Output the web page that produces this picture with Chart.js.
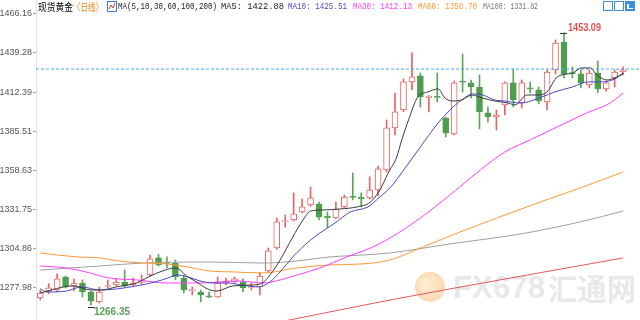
<!DOCTYPE html>
<html>
<head>
<meta charset="utf-8">
<script src="https://cdn.jsdelivr.net/npm/chart.js@4.4.1/dist/chart.umd.min.js"></script>
<style>
html, body { margin: 0; padding: 0; background: #fff; }
#wrap { width: 640px; height: 320px; position: relative; }
</style>
</head>
<body>
<div id="wrap"><canvas id="kline"></canvas></div>
<script>
// daily candles, spot gold
const opens = [1271.1, 1275.9, 1276.6, 1285.5, 1279.4, 1281.4, 1275.2, 1268.4, 1279.0, 1280.0,
  1282.1, 1280.0, 1281.8, 1286.9, 1298.6, 1295.5, 1295.1, 1284.8, 1276.2, 1275.2,
  1272.6, 1271.8, 1281.4, 1282.1, 1282.1, 1278.3, 1278.7, 1289.6, 1305.4, 1323.4,
  1324.6, 1330.1, 1334.9, 1335.6, 1327.3, 1326.0, 1333.6, 1340.9, 1340.4, 1339.8,
  1345.2, 1359.0, 1387.8, 1400.1, 1419.4, 1423.5, 1408.8, 1409.5, 1394.6, 1383.7,
  1420.0, 1418.7, 1415.9, 1398.1, 1395.3, 1403.6, 1418.7, 1404.9, 1415.3, 1413.9,
  1405.6, 1427.6, 1446.8, 1425.8, 1424.9, 1417.3, 1425.5, 1414.6, 1422.1, 1426.2];
const highs = [1276.6, 1281.0, 1287.6, 1286.2, 1284.2, 1283.5, 1275.9, 1278.7, 1283.5, 1284.2,
  1290.3, 1284.8, 1286.9, 1300.6, 1301.0, 1299.3, 1297.2, 1286.9, 1278.7, 1276.6,
  1275.2, 1285.5, 1284.8, 1285.5, 1284.2, 1281.4, 1288.3, 1305.4, 1326.0, 1328.1,
  1343.2, 1339.1, 1347.3, 1337.0, 1330.1, 1337.0, 1341.8, 1356.9, 1343.2, 1354.2,
  1361.7, 1393.3, 1411.8, 1421.4, 1439.3, 1425.5, 1410.0, 1425.5, 1395.3, 1420.0,
  1438.6, 1420.7, 1424.2, 1402.2, 1400.1, 1419.4, 1428.3, 1420.7, 1419.4, 1415.9,
  1427.6, 1448.2, 1453.09, 1429.7, 1427.6, 1427.6, 1433.8, 1420.0, 1427.6, 1429.7];
const lows = [1269.7, 1274.0, 1275.5, 1278.0, 1275.9, 1271.8, 1266.35, 1267.7, 1278.0, 1279.4,
  1278.7, 1279.4, 1280.7, 1286.2, 1293.0, 1291.7, 1283.5, 1274.5, 1273.2, 1268.4,
  1271.3, 1271.5, 1280.0, 1281.5, 1275.2, 1276.6, 1273.2, 1289.0, 1304.5, 1319.8,
  1324.0, 1329.5, 1334.0, 1324.6, 1319.2, 1325.5, 1333.0, 1338.4, 1333.6, 1339.0,
  1341.1, 1357.6, 1383.0, 1399.0, 1413.9, 1402.2, 1398.8, 1405.6, 1381.6, 1383.0,
  1412.5, 1408.4, 1387.1, 1391.9, 1386.4, 1396.7, 1402.2, 1401.5, 1411.8, 1404.3,
  1400.1, 1424.9, 1422.1, 1422.1, 1415.2, 1415.2, 1411.8, 1413.0, 1415.9, 1424.2];
const closes = [1274.5, 1278.0, 1284.2, 1278.7, 1281.4, 1275.2, 1269.1, 1275.2, 1279.6, 1282.1,
  1279.4, 1281.4, 1282.4, 1297.9, 1293.8, 1294.8, 1285.5, 1276.6, 1276.9, 1273.2,
  1271.6, 1281.4, 1282.8, 1284.2, 1278.0, 1279.0, 1286.2, 1303.4, 1323.3, 1324.1,
  1328.8, 1333.6, 1339.8, 1326.7, 1326.3, 1332.2, 1340.4, 1340.1, 1339.1, 1345.2,
  1359.7, 1387.8, 1398.8, 1419.4, 1422.8, 1409.1, 1409.6, 1408.8, 1384.4, 1418.7,
  1419.2, 1415.9, 1398.8, 1395.3, 1396.7, 1418.7, 1407.0, 1418.7, 1414.5, 1406.3,
  1426.2, 1446.1, 1424.9, 1425.1, 1418.7, 1425.5, 1414.6, 1418.7, 1426.2, 1427.6];

// moving averages: candle position -> value
const ma5At = [0, 3.9, 6.0, 7.2, 9.0, 11.4, 12.8, 14.8, 16.0, 17.5, 18.7, 19.8, 20.9, 22.8, 25.1, 26.3,
  27.2, 28.4, 29.9, 31.1, 32.0, 33.5, 35.5, 37.5, 39.1, 40.2, 41.2, 42.2, 42.8, 43.6, 44.7, 45.9,
  47.1, 47.9, 48.8, 49.9, 51.1, 52.3, 53.8, 55.4, 56.2, 57.6, 58.8, 60.0, 61.2, 63.0, 64.1, 65.1,
  65.9, 67.1, 68.0, 69.0];
const ma5 = [1274.6, 1279.4, 1276.6, 1276.6, 1278.7, 1281.4, 1285.5, 1290.3, 1291.7, 1285.5, 1281.4,
  1277.3, 1275.9, 1279.4, 1280.0, 1281.4, 1286.9, 1297.2, 1313.0, 1324.6, 1330.8, 1331.5, 1332.2,
  1333.6, 1337.0, 1345.2, 1356.9, 1367.9, 1379.6, 1393.3, 1409.1, 1412.5, 1414.6, 1408.4, 1406.3,
  1407.0, 1410.4, 1408.4, 1406.3, 1404.9, 1403.6, 1410.4, 1410.4, 1412.5, 1422.8, 1425.5, 1429.0,
  1429.0, 1424.2, 1420.7, 1422.1, 1424.9];
const ma10At = [0, 0.7, 3.1, 4.9, 7.0, 9.0, 11.4, 13.6, 15.1, 16.2, 17.5, 18.9, 20.5, 22.1, 23.9, 25.8,
  26.6, 27.2, 28.4, 29.9, 32.0, 33.1, 34.9, 36.7, 38.8, 40.2, 41.4, 42.6, 45.6, 47.1, 48.5, 49.9,
  51.2, 52.4, 53.8, 55.0, 56.8, 59.4, 60.9, 63.0, 64.9, 66.5, 68.0, 69.0];
const ma10 = [1277.5, 1275.2, 1275.9, 1278.7, 1276.6, 1277.3, 1279.4, 1282.1, 1284.8, 1286.9, 1285.5,
  1282.8, 1281.4, 1281.4, 1280.0, 1278.7, 1280.0, 1282.1, 1289.0, 1299.3, 1310.9, 1315.7, 1322.6,
  1330.1, 1333.6, 1340.4, 1346.6, 1355.5, 1379.6, 1391.2, 1400.1, 1407.0, 1411.1, 1410.4, 1407.0,
  1406.3, 1404.9, 1409.1, 1412.5, 1415.9, 1419.4, 1419.4, 1421.4, 1425.5];
const ma30At = [0, 3.1, 5.4, 8.2, 11.4, 15.0, 18.9, 23.4, 26.4, 28.4, 30.4, 33.1, 36.3, 39.1, 41.4,
  45.0, 48.5, 52.1, 55.0, 58.0, 61.2, 64.7, 67.5, 69.0];
const ma30 = [1293.1, 1291.7, 1289.0, 1284.8, 1283.5, 1281.4, 1281.4, 1282.8, 1281.4, 1283.5, 1286.9,
  1291.7, 1299.3, 1305.4, 1312.3, 1326.0, 1341.8, 1359.0, 1371.3, 1379.6, 1388.5, 1398.1, 1405.0,
  1411.8];
const ma60At = [0, 4.3, 7.1, 9.3, 12.2, 15.0, 17.4, 20.1, 22.8, 26.4, 30.4, 34.3, 38.2, 41.4, 45.0,
  49.7, 54.4, 59.2, 63.9, 69.0];
const ma60 = [1302.0, 1299.3, 1298.6, 1296.5, 1295.1, 1294.5, 1292.4, 1289.6, 1289.0, 1288.3, 1291.7,
  1293.8, 1294.5, 1297.2, 1305.4, 1316.4, 1326.7, 1337.0, 1346.6, 1357.6];
const ma100At = [0, 7.1, 12.2, 20.1, 26.4, 30.4, 34.3, 38.2, 41.4, 48.5, 56.8, 63.9, 69.0];
const ma100 = [1290.3, 1293.1, 1295.1, 1295.8, 1295.1, 1296.5, 1299.3, 1300.6, 1302.0, 1308.2, 1315.0,
  1323.3, 1330.8];
const ma200At = [27.2, 41.4, 54.4, 69.0];
const ma200 = [1253.3, 1269.7, 1283.5, 1298.6];

const yTicks = [1277.98, 1304.86, 1331.75, 1358.63, 1385.51, 1412.39, 1439.28, 1466.16];
const lastPrice = 1428.2;
const maNames = ['MA5', 'MA10', 'MA30', 'MA60', 'MA100'];
const maLast = [1422.88, 1425.51, 1412.13, 1358.70, 1331.82];
const highIdx = 62;
const lowIdx = 6;

const upColor = '#e86464';
const downColor = '#4f9e4f';
const maColors = ['#3a3a3a', '#4848cc', '#ff3cff', '#ff9933', '#a0a0a0', '#e05a5a'];

const isUp = opens.map((o, i) => closes[i] >= o);
const wickData = lows.map((l, i) => ({ x: i, y: [l, highs[i]] }));
const bodyData = opens.map((o, i) => ({ x: i, y: [o, closes[i]] }));
const pts = (at, vals) => at.map((a, i) => ({ x: a, y: vals[i] }));

function maLine(at, vals, color) {
  return {
    type: 'line', data: pts(at, vals), borderColor: color, borderWidth: 1,
    pointRadius: 0, cubicInterpolationMode: 'monotone', order: 0
  };
}

const overlay = {
  id: 'overlay',
  beforeDatasetsDraw(chart) {
    const ctx = chart.ctx;
    ctx.save();
    // watermark
    ctx.globalAlpha = 0.35;
    const g = ctx.createRadialGradient(426, 283, 2, 430, 287, 16);
    g.addColorStop(0, '#ffd27a');
    g.addColorStop(1, '#f08a1e');
    ctx.fillStyle = g;
    ctx.beginPath();
    ctx.arc(430, 287, 15, 0, Math.PI * 2);
    ctx.fill();
    ctx.globalAlpha = 1;
    ctx.fillStyle = '#e8e8e8';
    ctx.textBaseline = 'middle';
    ctx.font = 'bold 32px "Liberation Sans", Arial, sans-serif';
    ctx.fillText('FX678', 453, 289, 92);
    ctx.font = 'bold 30px "Noto Sans CJK SC", sans-serif';
    ctx.fillText('汇通网', 548, 289, 88);
    ctx.restore();
  },
  afterDraw(chart) {
    const { ctx, scales: { x, y } } = chart;
    ctx.save();
    ctx.textBaseline = 'middle';

    // highest / lowest marks
    const hx = x.getPixelForValue(highIdx);
    const hy = Math.round(y.getPixelForValue(highs[highIdx])) + 0.5;
    ctx.strokeStyle = '#333';
    ctx.lineWidth = 1;
    ctx.beginPath(); ctx.moveTo(hx - 4, hy); ctx.lineTo(hx + 3, hy); ctx.stroke();
    ctx.font = 'bold 10px "Liberation Sans", Arial, sans-serif';
    ctx.fillStyle = '#e8504f';
    ctx.fillText(highs[highIdx].toFixed(2), hx + 4, hy - 5, 33);

    const lx = x.getPixelForValue(lowIdx);
    const ly = Math.round(y.getPixelForValue(lows[lowIdx])) + 2.5;
    ctx.beginPath(); ctx.moveTo(lx - 3, ly); ctx.lineTo(lx + 4, ly); ctx.stroke();
    ctx.fillStyle = '#5aa05a';
    ctx.fillText(lows[lowIdx].toFixed(2), lx + 3, ly + 5, 40);

    // header line
    const ty = 7;
    ctx.font = '10px "Noto Sans CJK SC", sans-serif';
    ctx.fillStyle = '#000';
    ctx.fillText('现货黄金', 38, ty, 35);
    ctx.fillStyle = '#f08000';
    ctx.fillText('〈日线〉', 73, ty, 30);
    // small indicator icon
    ctx.strokeStyle = '#3a7bd5';
    ctx.strokeRect(107.5, 1.5, 9, 10);
    ctx.strokeStyle = '#d04040';
    ctx.beginPath(); ctx.moveTo(109, 9); ctx.lineTo(111, 5); ctx.lineTo(113, 8); ctx.lineTo(115, 3); ctx.stroke();

    ctx.font = '9px "Liberation Mono", "DejaVu Sans Mono", monospace';
    ctx.fillStyle = '#222';
    ctx.fillText('MA(5,10,30,60,100,200)', 118, ty, 99);
    const segX = [221, 288, 353, 418, 483];
    const segW = [63, 59, 59, 59, 55];
    maNames.forEach((n, i) => {
      ctx.fillStyle = i === 0 ? '#222' : (i === 4 ? '#777' : maColors[i]);
      ctx.fillText(n + ': ' + maLast[i].toFixed(2), segX[i], ty, segW[i]);
    });

    // tool buttons, top right
    ctx.strokeStyle = '#3a8ee0';
    ctx.strokeRect(603.5, 1.5, 9, 9);
    ctx.strokeRect(614.5, 1.5, 9, 9);
    ctx.fillStyle = '#3a8ee0';
    ctx.fillRect(625, 1, 10, 10);
    ctx.fillStyle = '#fff';
    ctx.fillRect(627, 4, 2, 5);
    ctx.fillRect(627, 8, 6, 1);
    ctx.restore();
  }
};

new Chart(document.getElementById('kline'), {
  data: {
    datasets: [
      {
        type: 'bar', data: wickData, barThickness: 1, grouped: false, order: 3,
        backgroundColor: isUp.map(u => u ? upColor : '#5aa55a')
      },
      {
        type: 'bar', data: bodyData, barThickness: 6, grouped: false, order: 2,
        minBarLength: 1, borderSkipped: false, borderWidth: 1,
        backgroundColor: isUp.map(u => u ? '#ffffff' : downColor),
        borderColor: isUp.map(u => u ? upColor : downColor)
      },
      maLine(ma5At, ma5, maColors[0]),
      maLine(ma10At, ma10, maColors[1]),
      maLine(ma30At, ma30, maColors[2]),
      maLine(ma60At, ma60, maColors[3]),
      maLine(ma100At, ma100, maColors[4]),
      maLine(ma200At, ma200, maColors[5]),
      {
        type: 'line', data: [{ x: -0.5, y: lastPrice }, { x: 71, y: lastPrice }],
        borderColor: '#4aa3f0', borderWidth: 1, borderDash: [3, 2], pointRadius: 0, order: 1
      }
    ]
  },
  options: {
    responsive: true,
    maintainAspectRatio: false,
    animation: false,
    layout: { padding: 0 },
    plugins: { legend: { display: false }, tooltip: { enabled: false } },
    scales: {
      x: { type: 'linear', min: -0.5, max: 71, display: false, offset: false, grid: { offset: false } },
      y: {
        position: 'left',
        min: 1256.0,
        max: 1475.6,
        afterBuildTicks: s => { s.ticks = yTicks.map(v => ({ value: v })); },
        afterFit: s => { s.width = 36; s.paddingTop = 0; s.paddingBottom = 0; },
        ticks: {
          callback: v => v.toFixed(2),
          color: '#555',
          padding: 1,
          font: { size: 9, family: '"Liberation Sans", Arial, sans-serif' }
        },
        grid: { drawOnChartArea: false, tickLength: 3, color: '#9aa4ae' },
        border: { color: '#dfe5ec' }
      }
    }
  },
  plugins: [overlay]
});
</script>
</body>
</html>
